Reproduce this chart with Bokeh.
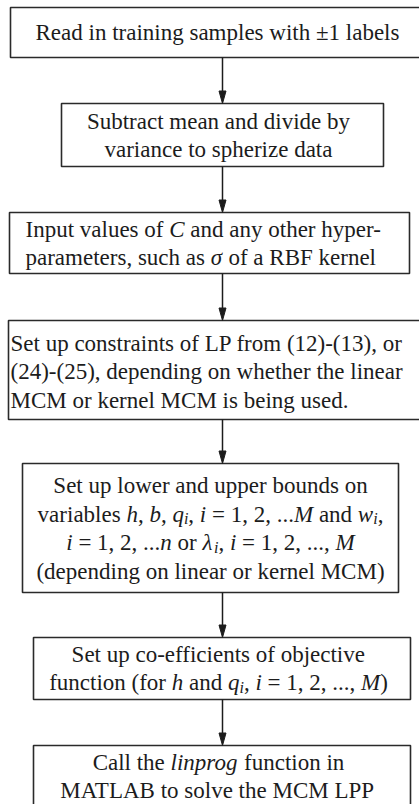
import re
from bokeh.plotting import figure
from bokeh.models import Range1d, ColumnDataSource
from bokeh.embed import file_html
from bokeh.resources import INLINE
from bokeh.core.properties import value

# ---- content ($..$ = italic math, _x = subscript) ----
box_lines = [
    ["Read in training samples with ±1 labels"],
    ["Subtract mean and divide by", "variance to spherize data"],
    ["Input values of $C$ and any other hyper-",
     "parameters, such as $σ$ of a RBF kernel"],
    ["Set up constraints of LP from (12)-(13), or",
     "(24)-(25), depending on whether the linear",
     "MCM or kernel MCM is being used."],
    ["Set up lower and upper bounds on",
     "variables $h$, $b$, $q$_i, $i$ = 1, 2, ...$M$ and $w$_i,",
     "$i$ = 1, 2, ...$n$ or $λ$_i, $i$ = 1, 2, ..., $M$",
     "(depending on linear or kernel MCM)"],
    ["Set up co-efficients of objective",
     "function (for $h$ and $q$_i, $i$ = 1, 2, ..., $M$)"],
    ["Call the $linprog$ function in", "MATLAB to solve the MCM LPP"],
]

# ---- layout (pixel coordinates of the page) ----
box_left = [10, 61, 9, 8, 22, 33, 33]
box_right = [434, 383, 409, 436, 398, 410, 410]
box_top = [7, 103, 212, 320, 463, 637, 745]
box_bottom = [57, 166, 273, 419, 592, 699, 820]
text_center = [32, 135, 243, 371, 528, 668, 776]
box_align = ["center", "center", "left", "left", "center", "center", "center"]
text_anchor = [217, 218, 25, 10, 210, 218, 218]
arrow_x = 222

FS = 23
SUB_FS = 16
SPACING = 28.5
SUB_SHIFT = 4.5
FONT = "Liberation Serif"
INK = "#1c1c1c"

W_R = {' ': 250, '!': 333, '(': 333, ')': 333, ',': 250, '-': 333, '.': 250,
       '=': 564, '±': 549, ':': 278}
for c in "0123456789":
    W_R[c] = 500
W_R.update(dict(zip("ABCDEFGHIJKLMNOPQRSTUVWXYZ",
                    [722, 667, 667, 722, 611, 556, 722, 722, 333, 389, 722, 611, 889,
                     722, 722, 556, 722, 667, 556, 611, 722, 722, 944, 722, 722, 611])))
W_R.update(dict(zip("abcdefghijklmnopqrstuvwxyz",
                    [444, 500, 444, 500, 444, 333, 500, 500, 278, 278, 500, 278, 778,
                     500, 500, 500, 500, 333, 389, 278, 500, 500, 722, 500, 500, 444])))
W_I = dict(W_R)
W_I.update(dict(zip("abcdefghijklmnopqrstuvwxyz",
                    [500, 500, 444, 500, 444, 278, 500, 500, 278, 278, 444, 278, 722,
                     500, 500, 500, 500, 389, 389, 278, 500, 444, 667, 444, 444, 389])))
W_I.update({'C': 667, 'M': 833, 'σ': 520, 'λ': 500})
W_R.update({'σ': 520, 'λ': 500})

pat = re.compile(r'\$([^$]+)\$|_(.)|([^$_]+)')


def parse(line):
    segs = []
    for m in pat.finditer(line):
        if m.group(1):
            segs.append((m.group(1), "italic", FS, 0.0))
        elif m.group(2):
            segs.append((m.group(2), "italic", SUB_FS, SUB_SHIFT))
        else:
            segs.append((m.group(3), "normal", FS, 0.0))
    return segs


def width(t, style, fs):
    tab = W_I if style == "italic" else W_R
    return sum(tab.get(c, 500) for c in t) * fs / 1000.0


tx, ty, tt, tst, tfs = [], [], [], [], []
for b, lines in enumerate(box_lines):
    n = len(lines)
    cy = text_center[b]
    for i, line in enumerate(lines):
        base = cy + (i - (n - 1) / 2.0) * SPACING
        segs = parse(line)
        total = sum(width(s[0], s[1], s[2]) for s in segs)
        x = text_anchor[b] - total / 2.0 if box_align[b] == "center" else text_anchor[b]
        for s, st, fs, dy in segs:
            lead = len(s) - len(s.lstrip(" "))
            core = s.strip(" ")
            if core:
                tx.append(x + width(" " * lead, st, fs))
                ty.append(base + dy)
                tt.append(core)
                tst.append(st)
                tfs.append("%gpx" % fs)
            x += width(s, st, fs)

p = figure(width=419, height=804, x_range=Range1d(0, 419), y_range=Range1d(804, 0),
           output_backend="svg", toolbar_location=None, x_axis_type=None,
           y_axis_type=None, min_border=0)
p.grid.visible = False
p.outline_line_color = None
p.background_fill_color = "white"
p.border_fill_color = "white"

p.quad(left=box_left, right=box_right, top=box_top, bottom=box_bottom,
       fill_color=None, line_color="#2a2a2a", line_width=1.6)

# arrows between consecutive boxes
sx0, sy0, sx1, sy1, hx, hy = [], [], [], [], [], []
for i in range(len(box_top) - 1):
    t = box_top[i + 1]
    sx0.append(arrow_x); sy0.append(box_bottom[i])
    sx1.append(arrow_x); sy1.append(t - 10)
    hx.append([arrow_x - 3.5, arrow_x, arrow_x + 3.5])
    hy.append([t - 12.5, t, t - 12.5])
p.segment(x0=sx0, y0=sy0, x1=sx1, y1=sy1, line_color=INK, line_width=1.5)
p.patches(xs=hx, ys=hy, fill_color=INK, line_color=INK, line_width=1)

src = ColumnDataSource(dict(x=tx, y=ty, text=tt, fs=tfs, style=tst))
p.text(x="x", y="y", text="text", source=src, text_font=value(FONT),
       text_font_size="fs", text_font_style="style", text_color=INK,
       text_align="left", text_baseline="alphabetic")

open("out.html", "w").write(file_html(p, INLINE))
